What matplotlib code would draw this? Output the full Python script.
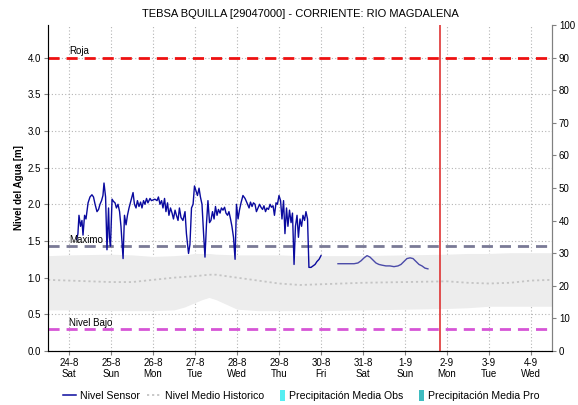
import matplotlib
matplotlib.use("Agg")
import matplotlib.pyplot as plt
from matplotlib.lines import Line2D
from matplotlib.patches import Patch, Rectangle
from matplotlib.legend_handler import HandlerPatch
import numpy as np
import pandas as pd

plt.rcParams["font.family"] = ["Liberation Sans", "DejaVu Sans"]

t0 = pd.Timestamp("2019-08-24 00:00")

# nivel del sensor: horas desde 24-8 00:00 y nivel [m]
sensor_h1 = [4.4, 5.1, 5.7, 6.6, 7.4, 8.0, 8.9, 9.7, 10.9, 12.0, 13.1, 14.0, 14.9,
             16.0, 16.9, 17.7, 18.6, 19.4, 20.0, 20.9, 21.7, 22.6, 23.1, 23.7, 24.6,
             25.4, 26.3, 27.1, 28.0, 28.9, 29.7, 30.9, 31.7, 32.6, 33.4, 34.3, 35.4,
             36.6, 37.4, 38.3, 39.1, 40.0, 40.9, 41.7, 42.6, 43.4, 44.3, 45.1, 46.3,
             47.1, 49.1, 50.3, 51.1, 52.0, 52.9, 53.7, 54.6, 55.4, 56.3, 57.1, 58.0,
             58.9, 59.7, 60.6, 61.4, 62.3, 63.1, 64.0, 65.1, 66.3, 67.1, 68.3, 69.1,
             70.0, 70.9, 71.7, 72.6, 73.4, 74.3, 75.1, 76.0, 76.9, 77.7, 78.6, 79.4,
             80.3, 81.1, 82.0, 82.9, 83.7, 84.6, 85.4, 86.3, 87.1, 88.0, 88.9, 89.7,
             90.6, 91.4, 92.3, 93.1, 94.0, 94.9, 95.7, 96.6, 97.4, 98.3, 99.4, 100.6,
             101.7, 102.9, 103.7, 104.6, 105.4, 106.3, 107.1, 108.0, 108.9, 109.7,
             110.6, 111.4, 112.3, 113.1, 114.0, 114.9, 115.7, 116.6, 117.4, 118.3,
             119.1, 120.0, 120.9, 121.7, 122.6, 123.4, 124.3, 125.1, 126.0, 126.9,
             127.7, 128.6, 129.4, 130.3, 131.1, 132.0, 132.9, 133.7, 134.6, 135.4,
             136.3, 137.1, 138.3, 139.4, 140.6, 141.7, 142.9, 144.0]
sensor_v1 = [1.52, 1.60, 1.85, 1.70, 1.78, 1.58, 1.85, 1.80, 2.02, 2.10, 2.13, 2.10, 2.00,
             1.90, 1.93, 2.00, 2.05, 2.12, 2.29, 2.10, 1.38, 1.95, 1.55, 1.43, 2.07,
             2.04, 2.02, 1.95, 2.00, 1.90, 1.70, 1.26, 1.85, 1.72, 1.85, 1.95, 2.05,
             2.16, 2.00, 1.95, 2.05, 1.97, 2.03, 1.95, 2.05, 2.00, 2.08, 2.02, 2.08,
             2.05, 2.07, 2.05, 2.10, 2.00, 2.05, 1.95, 2.08, 1.90, 2.02, 1.85, 1.95,
             1.88, 1.80, 1.92, 1.85, 1.78, 1.95, 1.82, 1.78, 1.90, 1.60, 1.33, 1.45,
             1.95, 2.00, 2.25, 2.18, 2.12, 2.22, 2.10, 2.00, 1.60, 1.28, 1.75, 2.05,
             1.75, 1.78, 1.90, 1.80, 1.97, 1.85, 1.93, 1.88, 1.95, 1.92, 1.96, 1.88,
             1.85, 1.90, 1.80, 1.70, 1.55, 1.25, 2.00, 1.80, 1.92, 2.02, 2.12, 2.08,
             2.02, 1.95, 2.03, 1.97, 2.02, 2.00, 1.90, 1.95, 2.00, 1.96,
             1.93, 1.98, 1.90, 1.95, 1.93, 2.00, 1.96, 1.98, 1.85, 2.02,
             2.00, 2.12, 2.05, 1.80, 2.05, 1.60, 1.95, 1.70, 1.92, 1.75,
             1.88, 1.18, 1.70, 1.85, 1.55, 1.80, 1.70, 1.85, 1.78, 1.90,
             1.80, 1.14, 1.14, 1.16, 1.18, 1.22, 1.25, 1.30]

sensor_h2 = [153.7, 156.0, 158.3, 160.6, 162.9, 165.1, 166.9, 168.6, 170.3, 172.0,
             173.7, 175.4, 177.1, 178.9, 181.1, 183.4, 185.7, 188.0, 189.7, 191.4,
             193.1, 194.9, 196.6, 198.3, 200.0, 201.7, 203.4, 205.1]
sensor_v2 = [1.19, 1.19, 1.19, 1.19, 1.19, 1.20, 1.23, 1.27, 1.30, 1.28,
             1.24, 1.20, 1.18, 1.17, 1.16, 1.16, 1.15, 1.16, 1.18, 1.22,
             1.26, 1.27, 1.26, 1.22, 1.18, 1.16, 1.13, 1.12]

# banda historica y nivel medio
hist_h = [-12, 0, 24, 36, 48, 60, 66, 72, 76, 80, 84, 96, 108, 120, 132, 144,
          168, 192, 216, 228, 240, 252, 264, 276]
hist_max = [1.30, 1.31, 1.32, 1.31, 1.29, 1.30, 1.31, 1.33, 1.33, 1.33, 1.32, 1.31,
            1.31, 1.31, 1.30, 1.30, 1.30, 1.31, 1.32, 1.33, 1.33, 1.34, 1.34, 1.34]
hist_min = [0.56, 0.56, 0.55, 0.55, 0.55, 0.56, 0.60, 0.66, 0.70, 0.73, 0.70, 0.57,
            0.55, 0.55, 0.55, 0.55, 0.56, 0.57, 0.58, 0.59, 0.61, 0.61, 0.61, 0.61]
hist_mean = [0.97, 0.96, 0.94, 0.94, 0.97, 1.00, 1.01, 1.02, 1.03, 1.04, 1.04, 1.00,
             0.96, 0.92, 0.90, 0.91, 0.93, 0.94, 0.95, 0.93, 0.92, 0.93, 0.96, 0.97]

# umbrales
umbral_roja = 4.0
umbral_maximo = 1.43
umbral_bajo = 0.30
hora_actual = 212  # 1-9 20:00

day_labels = ["24-8\nSat", "25-8\nSun", "26-8\nMon", "27-8\nTue", "28-8\nWed",
              "29-8\nThu", "30-8\nFri", "31-8\nSat", "1-9\nSun", "2-9\nMon",
              "3-9\nTue", "4-9\nWed"]


def to_dates(hours):
    return [t0 + pd.Timedelta(hours=h) for h in hours]


class NarrowPatch(HandlerPatch):
    # rectangulo angosto pegado al texto
    def create_artists(self, legend, orig_handle, xdescent, ydescent,
                       width, height, fontsize, trans):
        w = 0.75 * height
        h = 1.45 * height
        r = Rectangle((width - w - xdescent, -ydescent - 0.22 * height), w, h,
                      facecolor=orig_handle.get_facecolor(), edgecolor="none",
                      transform=trans)
        return [r]


fig = plt.figure(figsize=(5.78, 4.05), dpi=100)
ax = fig.add_axes([48 / 578, 54 / 405, 504 / 578, 326 / 405])

hd = to_dates(hist_h)
ax.fill_between(hd, hist_min, hist_max, color="#ededed", linewidth=0, zorder=1)
ax.plot(hd, hist_mean, color="#c4c4c4", linestyle=(0, (1.2, 1.6)), linewidth=1.3, zorder=2)

ax.axhline(umbral_roja, color="#ee1111", linestyle=(0, (4, 2.5)), linewidth=2, zorder=3)
ax.axhline(umbral_maximo, color="#7a7a96", linestyle=(0, (4, 2.5)), linewidth=2, zorder=3)
ax.axhline(umbral_bajo, color="#d655d6", linestyle=(0, (4, 2.5)), linewidth=2, zorder=3)

ax.plot(to_dates(sensor_h1), sensor_v1, color="#0a0a9e", linewidth=1.0, zorder=4)
ax.plot(to_dates(sensor_h2), sensor_v2, color="#4a4aa8", linewidth=1.0, zorder=4)

ax.axvline(t0 + pd.Timedelta(hours=hora_actual), color="#dd2222", linewidth=1.1, zorder=5)

x_lbl = t0
ax.text(x_lbl, umbral_roja + 0.02, "Roja", fontsize=7, va="bottom", ha="left", zorder=6)
ax.text(x_lbl, umbral_maximo + 0.02, "Maximo", fontsize=7, va="bottom", ha="left", zorder=6)
ax.text(x_lbl, umbral_bajo + 0.02, "Nivel Bajo", fontsize=7, va="bottom", ha="left", zorder=6)

days = [t0 + pd.Timedelta(days=i) for i in range(len(day_labels))]
ax.set_xlim(t0 - pd.Timedelta(hours=12), t0 + pd.Timedelta(hours=12 + 24 * 11))
ax.set_xticks(days)
ax.set_xticklabels(day_labels, fontsize=7, linespacing=1.1)
ax.set_ylim(0, 4.0 / 0.9)
ax.set_yticks(np.arange(0, 4.01, 0.5))
ax.set_yticklabels([f"{v:.1f}" for v in np.arange(0, 4.01, 0.5)], fontsize=7)
ax.set_ylabel("Nivel del Agua [m]", fontsize=7, fontweight="bold", labelpad=3)
ax.grid(True, color="#b4b4b4", linestyle=(0, (1, 2)), linewidth=0.8, zorder=0)
ax.set_axisbelow(True)

for side in ["left", "right"]:
    ax.spines[side].set_color("#808080")
ax.spines["top"].set_visible(False)
ax.spines["bottom"].set_color("#404040")
ax.spines["bottom"].set_linestyle((0, (1, 1)))
ax.tick_params(axis="both", length=3, color="#808080", pad=2)

ax2 = ax.twinx()
ax2.set_ylim(0, 100)
ax2.set_yticks(range(0, 101, 10))
ax2.tick_params(axis="y", labelsize=7, length=3, color="#808080", pad=2)
ax2.spines["top"].set_visible(False)
ax2.spines["right"].set_color("#808080")

ax.set_title("TEBSA BQUILLA [29047000] - CORRIENTE: RIO MAGDALENA", fontsize=8, pad=6)

handles = [
    Line2D([], [], color="#0a0a9e", linewidth=1.1),
    Line2D([], [], color="#c4c4c4", linestyle=(0, (1.2, 1.6)), linewidth=1.3),
    Patch(facecolor="#55eef2"),
    Patch(facecolor="#3fbcc0"),
]
labels = ["Nivel Sensor", "Nivel Medio Historico", "Precipitación Media Obs",
          "Precipitación Media Pro"]
fig.legend(handles, labels, loc="center", bbox_to_anchor=(301 / 578, 1 - 396 / 405),
           ncol=4, frameon=False, fontsize=7.6, handlelength=1.3, handletextpad=0.35,
           columnspacing=0.7, handler_map={Patch: NarrowPatch()})

fig.savefig("out.png", dpi=100)
